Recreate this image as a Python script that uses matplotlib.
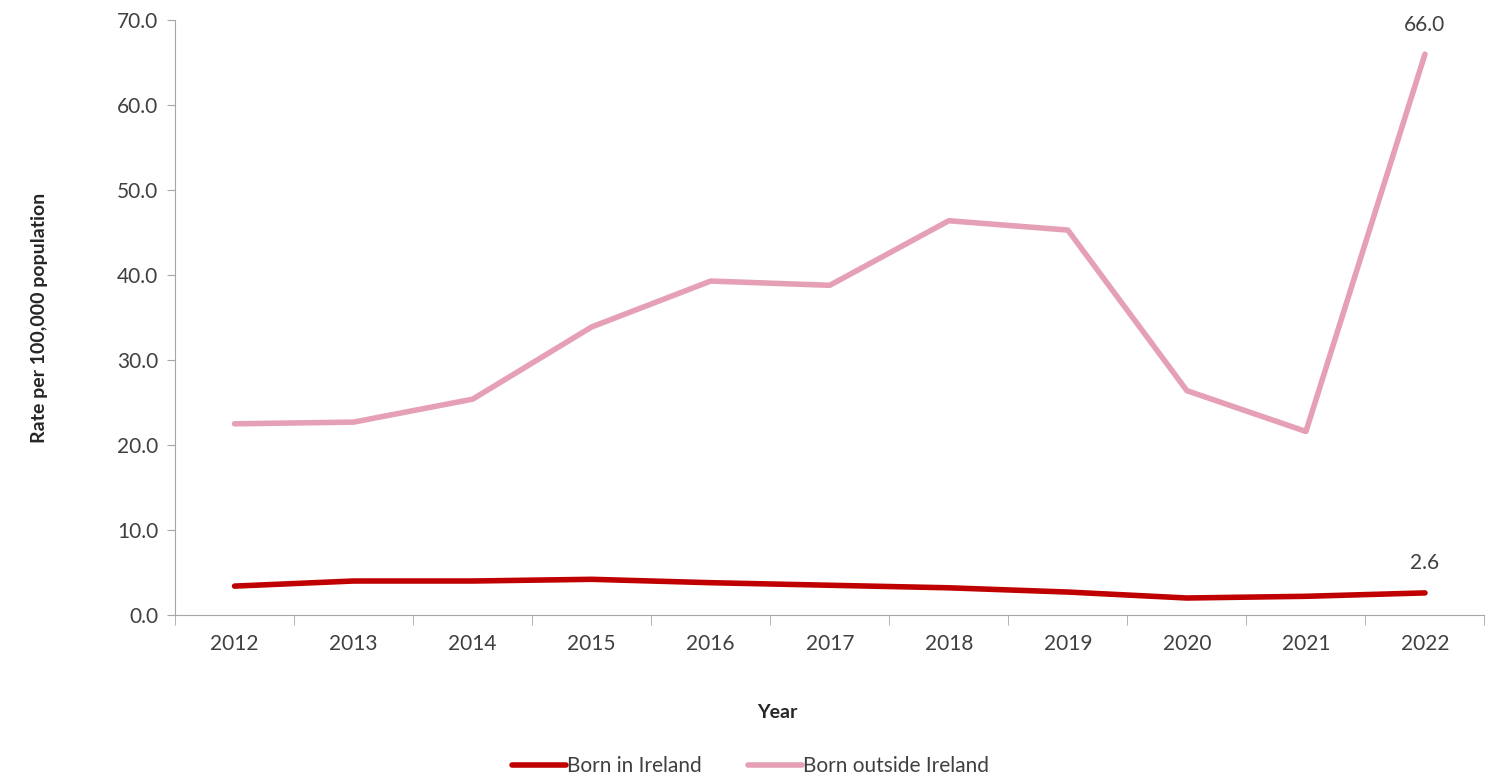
import numpy as np
import matplotlib.pyplot as plt

years = ['2012', '2013', '2014', '2015', '2016', '2017', '2018', '2019', '2020', '2021', '2022']
born_ireland = [3.4, 4.0, 4.0, 4.2, 3.8, 3.5, 3.2, 2.7, 2.0, 2.2, 2.6]
born_outside = [22.5, 22.7, 25.4, 33.9, 39.3, 38.8, 46.4, 45.3, 26.4, 21.6, 66.0]

plt.rcParams['font.family'] = ['Lato', 'DejaVu Sans']

def main():
	fig = plt.figure(figsize=(15.01, 7.77), dpi=100)
	ax = fig.add_axes([0.1166, 0.2085, 0.8724, 0.7655])

	x = np.arange(len(years))
	ax.plot(x, born_ireland, color='#C00000', lw=4, solid_capstyle='round', label='Born in Ireland')
	ax.plot(x, born_outside, color='#E6A0B6', lw=4, solid_capstyle='round', label='Born outside Ireland')

	# end labels
	ax.annotate('%.1f' % born_outside[-1], (x[-1], born_outside[-1]), xytext=(0, 14),
		textcoords='offset points', ha='center', va='bottom', fontsize=15, color='#404040')
	ax.annotate('%.1f' % born_ireland[-1], (x[-1], born_ireland[-1]), xytext=(0, 14),
		textcoords='offset points', ha='center', va='bottom', fontsize=15, color='#404040')

	ax.set_xlim(-0.5, len(years) - 0.5)
	ax.set_ylim(0, 70)
	ax.set_yticks(np.arange(0, 71, 10))
	ax.set_yticklabels(['%.1f' % v for v in np.arange(0, 71, 10)])
	ax.set_xticks(x)
	ax.set_xticklabels(years)
	ax.set_xticks(np.arange(-0.5, len(years)), minor=True)
	ax.tick_params(axis='x', which='major', length=0, pad=14, labelsize=15, labelcolor='#404040')
	ax.tick_params(axis='x', which='minor', length=7, color='#A6A6A6', direction='out')
	ax.tick_params(axis='y', length=6, color='#A6A6A6', pad=6, labelsize=15, labelcolor='#404040')

	for s in ['top', 'right']:
		ax.spines[s].set_visible(False)
	for s in ['left', 'bottom']:
		ax.spines[s].set_color('#A6A6A6')

	ax.set_xlabel('Year', fontsize=14, fontweight='bold', labelpad=36, color='#262626')
	ax.xaxis.label.set_x(0.46)
	ax.set_ylabel('Rate per 100,000 population', fontsize=14, fontweight='bold', labelpad=50, color='#262626')

	fig.legend(loc='center', bbox_to_anchor=(0.5, 0.014), ncol=2, frameon=False,
		fontsize=15, handlelength=2.6, handletextpad=0.05, columnspacing=2.2, labelcolor='#404040',
		borderpad=0)

	fig.savefig('out.png', dpi=100)

if __name__ == '__main__':
	main()
